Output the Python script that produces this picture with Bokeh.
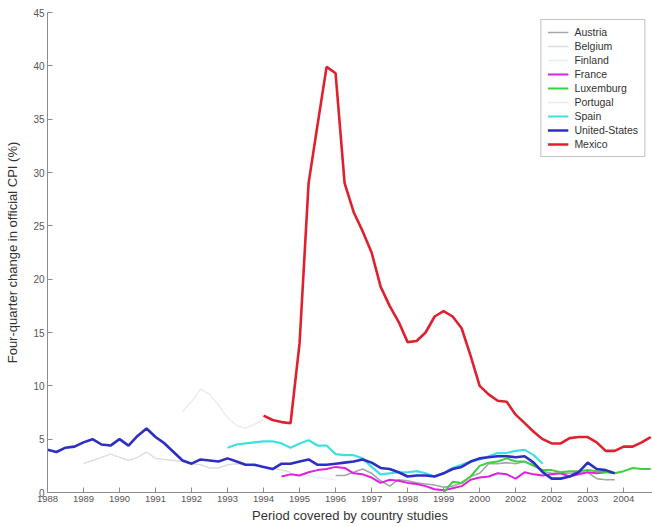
from bokeh.embed import file_html
from bokeh.models import FixedTicker, Legend, LegendItem
from bokeh.plotting import figure
from bokeh.resources import INLINE

# Quarterly four-quarter CPI changes (%)
pays = ["Austria", "Belgium", "Finland", "France", "Luxemburg",
        "Portugal", "Spain", "United-States", "Mexico"]

# first quarter of each series
debut = {
    "Austria": 1996.0, "Belgium": 1989.0, "Finland": 1995.0, "France": 1994.5,
    "Luxemburg": 1999.0, "Portugal": 1991.75, "Spain": 1993.0,
    "United-States": 1988.0, "Mexico": 1994.0,
}

austria = [1.6, 1.6, 1.9, 2.2, 1.8, 1.1, 0.6, 1.2, 1.1, 0.9, 0.8, 0.7,
           0.5, 0.6, 0.9, 1.5, 1.8, 2.7, 2.7, 2.8, 2.7, 2.9, 2.6, 2.0,
           1.8, 1.8, 1.8, 1.9, 1.9, 1.3, 1.2, 1.2]
belgium = [2.7, 3.0, 3.3, 3.6, 3.3, 3.0, 3.3, 3.8, 3.2, 3.1, 3.0, 2.9,
           2.7, 2.6, 2.3, 2.3, 2.6, 2.7, 2.6, 2.5, 2.4, 2.3, 2.1, 1.9]
finland = [1.8, 1.6, 1.4, 1.3, 1.2]
france = [1.5, 1.7, 1.6, 1.9, 2.1, 2.2, 2.4, 2.3, 1.8, 1.7, 1.4, 0.9,
          1.2, 1.1, 0.9, 0.8, 0.6, 0.3, 0.2, 0.4, 0.6, 1.2, 1.4, 1.5,
          1.8, 1.7, 1.3, 1.9, 1.7, 1.6, 1.7, 1.8, 1.5, 1.7, 1.9, 1.8, 1.9]
luxemburg = [0.0, 1.0, 0.9, 1.5, 2.5, 2.8, 2.9, 3.2, 2.9, 2.9, 2.5, 2.1,
             2.1, 1.9, 2.0, 2.0, 2.1, 2.0, 1.9, 1.8, 2.0, 2.3, 2.2, 2.2]
portugal = [7.6, 8.5, 9.7, 9.2, 8.2, 7.0, 6.3, 6.0, 6.4, 6.8]
spain = [4.2, 4.5, 4.6, 4.7, 4.8, 4.8, 4.6, 4.2, 4.6, 4.9, 4.4, 4.4,
         3.6, 3.5, 3.5, 3.2, 2.4, 1.7, 1.8, 1.9, 1.9, 2.0, 1.8, 1.5,
         1.8, 2.3, 2.6, 2.9, 3.1, 3.4, 3.7, 3.7, 3.9, 4.0, 3.5, 2.7]
usa = [4.0, 3.8, 4.2, 4.3, 4.7, 5.0, 4.5, 4.4, 5.0, 4.4, 5.3, 6.0,
       5.2, 4.6, 3.8, 3.0, 2.7, 3.1, 3.0, 2.9, 3.2, 2.9, 2.6, 2.6,
       2.4, 2.2, 2.7, 2.7, 2.9, 3.1, 2.6, 2.6, 2.7, 2.8, 2.9, 3.1,
       2.8, 2.3, 2.2, 1.9, 1.5, 1.6, 1.6, 1.5, 1.8, 2.2, 2.4, 2.9,
       3.2, 3.3, 3.4, 3.4, 3.3, 3.4, 2.8, 1.9, 1.3, 1.3, 1.5, 1.9,
       2.8, 2.2, 2.1, 1.8]
mexico = [7.2, 6.8, 6.6, 6.5, 14.0, 29.0, 34.5, 39.9, 39.3, 29.0, 26.3, 24.5,
          22.5, 19.3, 17.5, 16.0, 14.1, 14.2, 15.0, 16.5, 17.0, 16.5, 15.4, 12.8,
          10.0, 9.2, 8.6, 8.5, 7.3, 6.5, 5.7, 5.0, 4.6, 4.6, 5.1, 5.2,
          5.2, 4.7, 3.9, 3.9, 4.3, 4.3, 4.7, 5.2]

series = {
    "Austria": austria, "Belgium": belgium, "Finland": finland,
    "France": france, "Luxemburg": luxemburg, "Portugal": portugal,
    "Spain": spain, "United-States": usa, "Mexico": mexico,
}

couleurs = {
    "Austria": "#a6a6a6", "Belgium": "#dddddd", "Finland": "#e6eef2",
    "France": "#e020e0", "Luxemburg": "#3fd03f", "Portugal": "#efe9eb",
    "Spain": "#3fe0e0", "United-States": "#2e2ec4", "Mexico": "#e0202e",
}
epaisseurs = {
    "Austria": 1.6, "Belgium": 1.4, "Finland": 1.4, "France": 2.0,
    "Luxemburg": 2.0, "Portugal": 1.4, "Spain": 2.2,
    "United-States": 2.6, "Mexico": 2.6,
}

annees = list(range(1988, 2005))
etiquettes = ["1988", "1989", "1990", "1991", "1992", "1993", "1994", "1995",
              "1996", "1997", "1998", "1999", "2000", "2002", "2002", "2003", "2004"]
y_ticks = [0, 5, 10, 15, 20, 25, 30, 35, 40, 45]

p = figure(width=652, height=527, x_range=(1988, 2004.8), y_range=(0, 45),
           output_backend="svg", toolbar_location=None,
           x_axis_label="Period covered by country studies",
           y_axis_label="Four-quarter change in official CPI (%)",
           min_border_left=47, min_border_right=0, min_border_top=12,
           min_border_bottom=35)
p.outline_line_color = None
p.grid.grid_line_color = None
p.background_fill_color = "white"
p.border_fill_color = "white"

items = []
for nom in pays:
    vals = series[nom]
    xs = [debut[nom] + 0.25 * i for i in range(len(vals))]
    r = p.line(xs, vals, line_color=couleurs[nom], line_width=epaisseurs[nom])
    items.append(LegendItem(label=nom, renderers=[r]))

legende = Legend(items=items, location="top_right", margin=7,
                 label_text_font="Liberation Sans", label_text_font_size="10.5px",
                 label_text_color="#333333", glyph_width=21, glyph_height=12,
                 label_height=12, spacing=2, padding=6, label_standoff=6,
                 border_line_color="#888888", border_line_width=1,
                 background_fill_alpha=1.0)
p.add_layout(legende)

p.xaxis.ticker = FixedTicker(ticks=annees)
p.xaxis.major_label_overrides = {a: e for a, e in zip(annees, etiquettes)}
p.yaxis.ticker = FixedTicker(ticks=y_ticks)

for ax in (p.xaxis, p.yaxis):
    ax.axis_line_color = "#8c8c8c"
    ax.major_tick_line_color = "#8c8c8c"
    ax.major_tick_in = 5
    ax.major_tick_out = 0
    ax.minor_tick_line_color = None
    ax.major_label_text_font = "Liberation Sans"
    ax.major_label_text_color = "#555555"
    ax.major_label_standoff = 3
    ax.axis_label_text_font = "Liberation Sans"
    ax.axis_label_text_font_size = "13px"
    ax.axis_label_text_font_style = "normal"
    ax.axis_label_text_color = "#333333"

p.xaxis.major_label_text_font_size = "9.5px"
p.yaxis.major_label_text_font_size = "10px"
p.xaxis.axis_label_standoff = 3
p.yaxis.axis_label_standoff = 10

open("out.html", "w").write(file_html(p, INLINE))
